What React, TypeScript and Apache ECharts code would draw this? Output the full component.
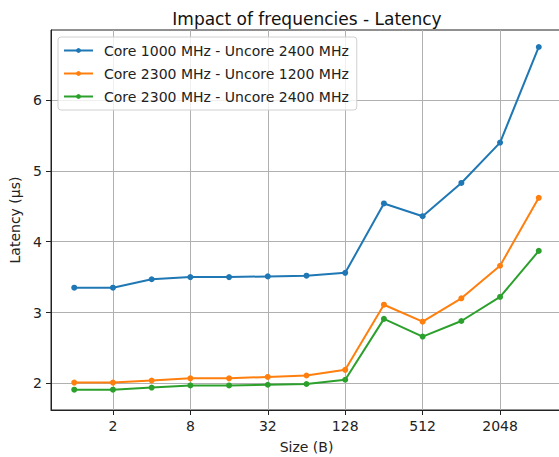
import React, { useEffect, useRef } from "react";
import * as echarts from "echarts";

const sizes = [1, 2, 4, 8, 16, 32, 64, 128, 256, 512, 1024, 2048, 4096];
const tickSizes = [2, 8, 32, 128, 512, 2048];
const yTicks = [2, 3, 4, 5, 6];
const seriesNames = [
  "Core 1000 MHz - Uncore 2400 MHz",
  "Core 2300 MHz - Uncore 1200 MHz",
  "Core 2300 MHz - Uncore 2400 MHz",
];
const core1000Uncore2400 = [3.35, 3.35, 3.47, 3.5, 3.5, 3.51, 3.52, 3.56, 4.54, 4.36, 4.83, 5.4, 6.75];
const core2300Uncore1200 = [2.01, 2.01, 2.04, 2.07, 2.07, 2.09, 2.11, 2.19, 3.11, 2.87, 3.2, 3.66, 4.62];
const core2300Uncore2400 = [1.91, 1.91, 1.94, 1.97, 1.97, 1.98, 1.99, 2.05, 2.91, 2.66, 2.88, 3.22, 3.87];
const colors = ["#1f77b4", "#ff7f0e", "#2ca02c"];

const FONT = "DejaVu Sans";

export default function App() {
  const ref = useRef<HTMLDivElement>(null);
  useEffect(() => {
    if (!ref.current) return;
    const chart = echarts.init(ref.current, undefined, { renderer: "svg" });
    const allData = [core1000Uncore2400, core2300Uncore1200, core2300Uncore2400];
    const series = allData.map((vals, i) => ({
      name: seriesNames[i],
      type: "line",
      data: sizes.map((s, j) => [Math.log2(s), vals[j]]),
      symbol: "circle",
      symbolSize: 6,
      lineStyle: { width: 2, color: colors[i] },
      itemStyle: { color: colors[i] },
      z: 3,
    }));
    const tickExp = tickSizes.map((s) => Math.log2(s));
    chart.setOption({
      animation: false,
      backgroundColor: "#fff",
      textStyle: { fontFamily: FONT },
      title: {
        text: "Impact of frequencies - Latency",
        left: 302,
        textAlign: "center",
        top: 5,
        textStyle: { fontFamily: FONT, fontSize: 17, fontWeight: "normal", color: "#111" },
      },
      legend: {
        orient: "vertical",
        left: 58,
        top: 37,
        padding: [5, 8, 5, 5],
        itemWidth: 29,
        itemHeight: 6,
        itemGap: 6,
        backgroundColor: "rgba(255,255,255,0.8)",
        borderColor: "#d0d0d0",
        borderWidth: 1,
        borderRadius: 3,
        textStyle: { fontFamily: FONT, fontSize: 14, lineHeight: 17, color: "#222", padding: [0, 0, 0, 6] },
        data: seriesNames,
      },
      grid: {
        left: 51,
        top: 30,
        width: 511,
        height: 380,
        outerBoundsMode: "none",
        containLabel: false,
        show: true,
        borderColor: "#222",
        borderWidth: 1,
        backgroundColor: "transparent",
      },
      xAxis: {
        type: "value",
        min: -0.6,
        max: 12.6,
        name: "Size (B)",
        nameLocation: "middle",
        nameGap: 30,
        nameTextStyle: { fontFamily: FONT, fontSize: 14, color: "#222" },
        axisLine: { show: true, onZero: false, lineStyle: { color: "#222", width: 1 } },
        axisTick: { show: true, length: 5, customValues: tickExp, lineStyle: { color: "#222" } },
        axisLabel: {
          customValues: tickExp,
          margin: 9,
          fontFamily: FONT,
          fontSize: 14,
          color: "#222",
          formatter: (v: number) => String(Math.round(Math.pow(2, v))),
        },
        splitLine: { show: true, lineStyle: { color: "#b0b0b0", width: 1 } },
      },
      yAxis: {
        type: "value",
        min: 1.623,
        max: 6.99,
        name: "Latency (µs)",
        nameLocation: "middle",
        nameGap: 27,
        nameTextStyle: { fontFamily: FONT, fontSize: 14, color: "#222" },
        axisLine: { show: true, onZero: false, lineStyle: { color: "#222", width: 1 } },
        axisTick: { show: true, length: 5, customValues: yTicks, lineStyle: { color: "#222" } },
        axisLabel: {
          customValues: yTicks,
          margin: 9,
          fontFamily: FONT,
          fontSize: 14,
          color: "#222",
          formatter: (v: number) => String(Math.round(v)),
        },
        splitLine: { show: true, lineStyle: { color: "#b0b0b0", width: 1 } },
      },
      series,
    });
    return () => chart.dispose();
  }, []);
  return (
    <div
      ref={ref}
      style={{ position: "fixed", left: 0, top: 0, width: 570, height: 457, overflow: "hidden" }}
    />
  );
}
